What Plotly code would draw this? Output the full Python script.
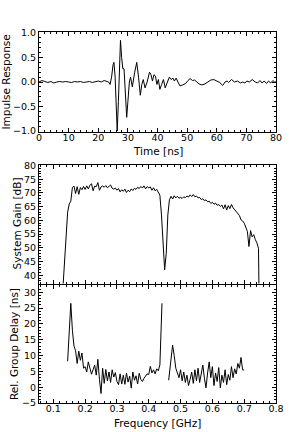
import plotly.graph_objects as go

# ---------------- data ----------------
time_ns = [0, 1, 2, 3, 4, 5, 6, 7, 8, 9, 10, 11, 12, 13, 14, 15, 16, 17, 18, 19, 20, 21, 22, 23, 23.5,
           24, 24.5, 25, 25.3, 25.7, 26, 26.4, 26.8, 27.1, 27.5, 27.9, 28.3, 28.7, 29.1, 29.6, 30.0,
           30.5, 30.9, 31.5, 32.3, 33.0, 33.6, 34.2, 34.7, 35.2, 35.8, 36.5, 37.3, 37.8, 38.3, 38.8,
           39.3, 39.8, 40.3, 40.8, 41.4, 42, 42.6, 43.3, 44, 44.6, 45.2, 45.7, 46.3, 46.9, 47.6, 48.5,
           49.5, 50.3, 51, 51.8, 52.5, 53.3, 54, 55, 56, 57, 58, 59, 60, 61, 62, 62.8, 63.5, 64, 65,
           66, 67, 68, 68.8, 69.5, 70.2, 71, 72, 73, 73.8, 74.6, 75.3, 76, 76.8, 77.5, 78.2, 79, 79.6, 80]
impulse = [0.0, 0.03, 0.01, -0.01, 0.01, -0.02, 0.0, 0.01, 0.0, 0.01, 0.0, -0.01, 0.01, 0.0, 0.01, -0.01,
           0.0, 0.01, -0.01, 0.0, 0.02, 0.0, 0.03, 0.01, 0.0,
           -0.05, 0.1, 0.35, 0.40, 0.1, -0.5, -1.0, -0.4, 0.3, 0.85, 0.5, 0.27, 0.27, -0.2, -0.72, -0.4,
           0.0, 0.1, -0.1, 0.2, 0.4, 0.1, -0.27, -0.05, 0.05, -0.12, 0.0, 0.2, 0.15, 0.02, 0.15,
           0.12, -0.05, 0.05, -0.15, -0.05, 0.05, -0.12, 0.0, 0.1, 0.05, 0.08, 0.02, 0.08, 0.0, -0.08, -0.06,
           -0.03, 0.03, 0.07, 0.03, 0.04, 0.0, -0.04, -0.06, -0.04, 0.0, 0.04, 0.05, 0.02, -0.01, -0.07, 0.0, 0.02, -0.01, 0.05,
           0.0, 0.02, -0.02, 0.0, -0.02, 0.02, 0.0, 0.05, 0.0, -0.02, 0.03, -0.02, 0.02, -0.03, 0.02, -0.02, 0.03, -0.01, 0.01]

gain_freq = [0.130, 0.135, 0.140, 0.145, 0.150, 0.155, 0.160, 0.165, 0.170, 0.175, 0.180, 0.185, 0.190,
             0.195, 0.200, 0.205, 0.210, 0.215, 0.220, 0.225, 0.230, 0.235, 0.240, 0.245, 0.250, 0.255,
             0.260, 0.265, 0.270, 0.275, 0.280, 0.285, 0.290, 0.295, 0.300, 0.305, 0.310, 0.315, 0.320,
             0.325, 0.330, 0.335, 0.340, 0.345, 0.350, 0.355, 0.360, 0.365, 0.370, 0.375, 0.380, 0.385,
             0.390, 0.395, 0.400, 0.405, 0.410, 0.415, 0.420, 0.425, 0.430, 0.435, 0.440, 0.445, 0.450,
             0.455, 0.460, 0.465, 0.470, 0.475, 0.480, 0.485, 0.490, 0.495, 0.500, 0.505, 0.510, 0.515,
             0.520, 0.525, 0.530, 0.535, 0.540, 0.545, 0.550, 0.555, 0.560, 0.565, 0.570, 0.575, 0.580,
             0.585, 0.590, 0.595, 0.600, 0.605, 0.610, 0.615, 0.620, 0.625, 0.630, 0.635, 0.640, 0.645,
             0.650, 0.655, 0.660, 0.665, 0.670, 0.675, 0.680, 0.685, 0.690, 0.695, 0.700, 0.705, 0.710,
             0.715, 0.720, 0.725, 0.730, 0.735, 0.740, 0.745, 0.748]
gain_db = [35, 44, 54, 63, 66, 67, 72, 72.5, 69.8, 72.3, 69.5, 72, 71.2,
           72.4, 71.3, 72.6, 71.5, 72.8, 73.4, 70.8, 72.5, 72.3, 73.8, 71, 72.2, 72.6,
           72.1, 72.7, 71.9, 72.4, 72.9, 71.7, 71.4, 71.8, 71.0, 71.6, 70.4, 71.2, 70.6,
           71.4, 70.2, 71.0, 70.5, 71.5, 70.9, 71.7, 71.3, 72.1, 71.6, 72.4, 71.8, 72.6,
           71.5, 72.3, 71.9, 72.2, 71.0, 71.9, 70.8, 71.3, 70.0, 69.2, 62, 52, 42,
           48, 62, 67.5, 68.8, 67.8, 69.0, 68.2, 68.8, 68.1, 68.4, 68.0, 68.6, 68.3,
           68.9, 68.5, 69.3, 68.7, 69.4, 68.6, 68.9, 68.2, 68.4, 67.6, 67.9, 67.2, 67.5,
           66.8, 67.0, 66.2, 66.6, 65.9, 66.3, 65.5, 65.8, 65.1, 65.6, 64.2, 65.7, 63.8,
           65.4, 64.3, 65.8, 64.6, 64.0, 63.2, 62.5, 61.8, 60.2, 59.8, 59.0, 57.5, 56.0,
           50.5, 56.3, 54.0, 54.8, 53.0, 51.8, 49.8, 20]

delay_freq_lo = [0.145, 0.150, 0.155, 0.160, 0.165, 0.170, 0.175, 0.180, 0.185, 0.190, 0.195, 0.200,
                 0.205, 0.210, 0.215, 0.220, 0.225, 0.230, 0.235, 0.240, 0.245, 0.250, 0.255, 0.260,
                 0.265, 0.270, 0.275, 0.280, 0.285, 0.290, 0.295, 0.300, 0.305, 0.310, 0.315, 0.320,
                 0.325, 0.330, 0.335, 0.340, 0.345, 0.350, 0.355, 0.360, 0.365, 0.370, 0.375, 0.380,
                 0.385, 0.390, 0.395, 0.400, 0.405, 0.410, 0.415, 0.420, 0.425, 0.430, 0.435, 0.4416]
delay_lo = [8.2, 20, 26.5, 18, 13, 11.5, 7.5, 11.4, 8.5, 10.8, 6.0, 6.5,
            4.8, 8.0, 6.2, 4.1, 5.5, 7.0, 3.8, 8.8, 2.5, -2.0, 6.0, 1.2,
            5.6, 2.0, 4.8, 1.5, 5.5, 3.2, 4.6, 1.8, 0.8, 4.2, 1.0, 3.8,
            0.9, 4.5, 1.6, 3.5, -0.3, 4.8, 2.2, 3.6, 1.0, 4.4, 2.5, 1.8,
            2.8, 3.5, 4.2, 4.0, 6.6, 4.5, 5.5, 4.2, 5.8, 5.2, 7.0, 26.5]

delay_freq_hi = [0.4626, 0.470, 0.475, 0.480, 0.485, 0.490, 0.495, 0.500, 0.505, 0.510, 0.515, 0.520,
                 0.525, 0.530, 0.535, 0.540, 0.545, 0.550, 0.555, 0.560, 0.565, 0.570, 0.575, 0.580,
                 0.585, 0.590, 0.595, 0.600, 0.605, 0.610, 0.615, 0.620, 0.625, 0.630, 0.635, 0.640,
                 0.645, 0.650, 0.655, 0.660, 0.665, 0.670, 0.675, 0.680, 0.685, 0.690, 0.695, 0.700]
delay_hi = [2.2, 10, 13.3, 10, 6, 4.5, 3.0, 5.5, 2.0, 4.8, 1.5, 3.8,
            0.5, 2.5, 4.8, 1.2, 5.5, 2.0, 6.0, 1.5, 4.2, 7.0, 2.8, -0.2,
            4.5, 8.0, 3.0, 6.5, 0.5, 4.5, 1.8, 6.2, -0.2, 3.8, 1.5, 5.5,
            0.8, 4.0, 2.2, 6.5, 3.0, 5.8, 4.2, 7.5, 6.0, 9.4, 5.5, 5.4]

# ---------------- figure ----------------
W, H = 295, 432
FONT = "DejaVu Sans"
line = dict(color="black", width=1)

fig = go.Figure()
fig.add_trace(go.Scatter(x=time_ns, y=impulse, mode="lines", line=line, xaxis="x", yaxis="y"))
fig.add_trace(go.Scatter(x=gain_freq, y=gain_db, mode="lines", line=line, xaxis="x2", yaxis="y2"))
fig.add_trace(go.Scatter(x=delay_freq_lo, y=delay_lo, mode="lines", line=line, xaxis="x3", yaxis="y3"))
fig.add_trace(go.Scatter(x=delay_freq_hi, y=delay_hi, mode="lines", line=line, xaxis="x3", yaxis="y3"))


def px_x(p):
    return p / W


def px_y(p):
    return 1 - p / H


common = dict(showline=True, linecolor="black", linewidth=1, mirror="allticks",
              ticks="inside", ticklen=4, tickcolor="black", showgrid=False, zeroline=False,
              automargin=False,
              tickfont=dict(family=FONT, size=9.5, color="black"))
xcommon = dict(common, ticklabelstandoff=-3)


def minor(d):
    return dict(ticks="inside", ticklen=2, tickcolor="black", dtick=d, showgrid=False)


xdom = [px_x(39), px_x(276)]
fig.update_layout(
    width=W, height=H, margin=dict(l=0, r=0, t=0, b=0, autoexpand=False),
    paper_bgcolor="white", plot_bgcolor="white", showlegend=False,
    font=dict(family=FONT, size=10.5, color="black"),
    xaxis=dict(domain=xdom, anchor="y", range=[0, 80], dtick=10, minor=minor(2), **xcommon),
    yaxis=dict(domain=[px_y(132), px_y(32)], anchor="x", range=[-1.02, 1.02], dtick=0.5,
               tickformat=".1f", minor=minor(0.1), **common),
    xaxis2=dict(domain=xdom, anchor="y2", range=[0.055, 0.8], dtick=0.1, showticklabels=False,
                minor=minor(0.02), **xcommon),
    yaxis2=dict(domain=[px_y(283.5), px_y(165)], anchor="x2", range=[37, 80.2], dtick=5,
                minor=minor(1), **common),
    xaxis3=dict(domain=xdom, anchor="y3", range=[0.055, 0.8], dtick=0.1, tickformat=".1f",
                minor=minor(0.02), **xcommon),
    yaxis3=dict(domain=[px_y(403), px_y(285)], anchor="x3", range=[-5, 32.3], dtick=5,
                minor=minor(1), **common),
)

ann = dict(xref="paper", yref="paper", showarrow=False,
           font=dict(family=FONT, size=10.5, color="black"))
fig.add_annotation(text="Time [ns]", x=px_x(157.5), y=px_y(150.5), xanchor="center", yanchor="middle", **ann)
fig.add_annotation(text="Frequency [GHz]", x=px_x(157.5), y=px_y(423), xanchor="center", yanchor="middle", **ann)
fig.add_annotation(text="Impulse Response", textangle=-90, x=px_x(5.5), y=px_y(82), xanchor="center", yanchor="middle", **ann)
fig.add_annotation(text="System Gain [dB]", textangle=-90, x=px_x(16.5), y=px_y(224), xanchor="center", yanchor="middle", **ann)
fig.add_annotation(text="Rel. Group Delay [ns]", textangle=-90, x=px_x(14), y=px_y(344), xanchor="center", yanchor="middle", **ann)

fig.write_html("out.html", config={"displayModeBar": False},
               post_script="document.body.style.margin='0';document.body.style.overflow='hidden';")
